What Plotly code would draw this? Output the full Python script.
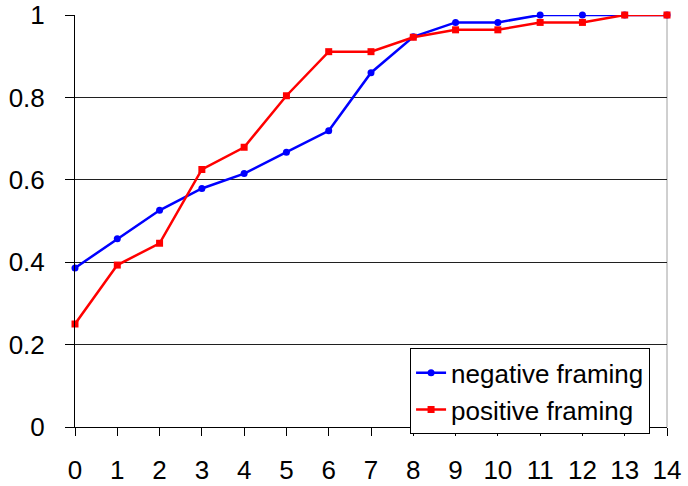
import plotly.graph_objects as go

x_vals = list(range(15))
negative_framing = [0.386, 0.457, 0.526, 0.579, 0.615, 0.667, 0.719, 0.860, 0.947, 0.982, 0.982, 1.0, 1.0, 1.0, 1.0]
positive_framing = [0.250, 0.393, 0.446, 0.625, 0.679, 0.804, 0.911, 0.911, 0.946, 0.964, 0.964, 0.982, 0.982, 1.0, 1.0]
y_ticks = [0, 0.2, 0.4, 0.6, 0.8, 1]
y_tick_labels = ["0", "0.2", "0.4", "0.6", "0.8", "1"]

fig = go.Figure()
fig.add_trace(go.Scatter(x=x_vals, y=negative_framing, mode="lines+markers", name="negative framing",
                         line=dict(color="#0000ff", width=2.5),
                         marker=dict(symbol="circle", size=7, color="#0000ff"), cliponaxis=False))
fig.add_trace(go.Scatter(x=x_vals, y=positive_framing, mode="lines+markers", name="positive framing",
                         line=dict(color="#ff0000", width=2.5),
                         marker=dict(symbol="square", size=7, color="#ff0000"), cliponaxis=False))

fig.add_shape(type="line", xref="paper", yref="paper", x0=1, x1=1, y0=0, y1=1,
              line=dict(color="#a0a0a0", width=1), layer="below")

fig.update_layout(
    width=688, height=486,
    margin=dict(l=75, r=21, t=15, b=59, autoexpand=False),
    paper_bgcolor="white", plot_bgcolor="white",
    font=dict(family="Liberation Sans, Arial, sans-serif", size=26, color="black"),
    showlegend=True,
    hovermode=False,
    legend=dict(x=0.566, y=0.191, xanchor="left", yanchor="top",
                bordercolor="black", borderwidth=1, bgcolor="white",
                font=dict(size=26), tracegroupgap=0),
)
fig.update_xaxes(range=[0, 14], tickmode="array", tickvals=x_vals, ticks="outside", ticklen=8,
                 tickcolor="black", showline=True, linecolor="black", linewidth=1,
                 showgrid=False, zeroline=False, fixedrange=True, automargin=False,
                 ticklabelstandoff=12)
fig.update_yaxes(range=[0, 1], tickmode="array", tickvals=y_ticks, ticktext=y_tick_labels,
                 ticks="outside", ticklen=9, tickcolor="black", showline=True, linecolor="black",
                 linewidth=1, showgrid=True, gridcolor="#202020", gridwidth=1, zeroline=False,
                 fixedrange=True, automargin=False, ticklabelstandoff=15)

fig.write_html("out.html", config={"displayModeBar": False, "staticPlot": True},
               post_script="document.body.style.margin='0';")
